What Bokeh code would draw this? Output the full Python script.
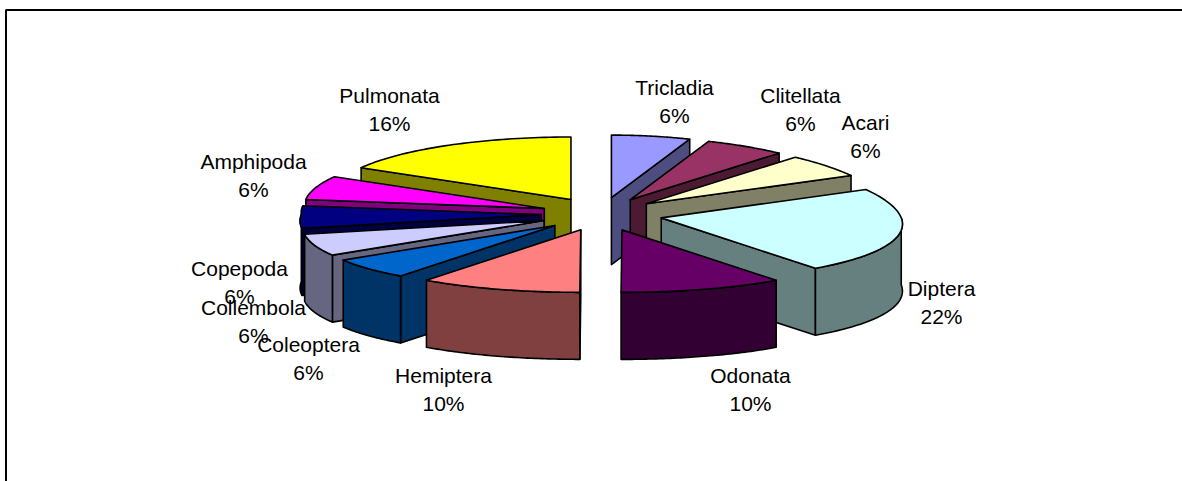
import math
from bokeh.plotting import figure
from bokeh.models import Range1d
from bokeh.core.properties import value
from bokeh.embed import file_html
from bokeh.resources import INLINE

# ---- data (slice sizes estimated; labels show them rounded) ----
categories = ["Tricladia", "Clitellata", "Acari", "Diptera", "Odonata", "Hemiptera",
              "Coleoptera", "Collembola", "Copepoda", "Amphipoda", "Pulmonata"]
percent = [5.8, 5.8, 5.9, 22.4, 10.1, 10.0, 5.6, 5.8, 5.8, 6.2, 16.49]
top_colors = ["#9999FF", "#993366", "#FFFFCC", "#CCFFFF", "#660066", "#FF8080",
              "#0066CC", "#CCCCFF", "#000080", "#FF00FF", "#FFFF00"]
side_colors = ["#4D4D80", "#4D1A33", "#808066", "#668080", "#330033", "#804040",
               "#003366", "#666680", "#000040", "#800080", "#808000"]

# ---- layout of the projected pie (pixels of the page) ----
W, H = 1182, 481
CX, CY = 601.0, 213.5        # pie centre
RA, RB = 240.0, 62.5         # ellipse radii
PERSP = 0.10                 # back narrower than front
PERSP_BACK_LEFT = -0.03      # the back-left quarter is drawn a little wider
EXPLODE_X, EXPLODE_Y = 0.25, 0.267   # slice pull-out, fraction of the radius
DEPTH = 67.0                 # extrusion
label_xy = [(674, 87), (800, 95), (865, 122), (941, 288), (750, 375), (443, 375),
            (308, 344), (253, 307), (239, 268), (253, 161), (389, 95)]
LINE_GAP = 28


def rim(theta):
    """Offset of a rim point at clockwise angle theta from 12 o'clock."""
    s, c = math.sin(theta), math.cos(theta)
    k = PERSP_BACK_LEFT if (s < 0 and c > 0) else PERSP
    return RA * s / (1 + k * c), -RB * c


p = figure(width=W, height=H, output_backend="svg", toolbar_location=None,
           x_range=Range1d(0, W), y_range=Range1d(H, 0), min_border=0,
           outline_line_color=None, margin=(0, 0, 0, 0))
p.axis.visible = False
p.grid.visible = False
p.background_fill_color = "white"
p.border_fill_color = "white"

# chart frame (its right and bottom sides lie outside the window)
p.line([5.5, 5.5, W + 5], [H + 5, 9.5, 9.5], line_color="#000000", line_width=2)

# slices
total = sum(percent)
slices = []
cum = 0
for name, v, tc, sc in zip(categories, percent, top_colors, side_colors):
    t0 = 2 * math.pi * cum / total
    t1 = 2 * math.pi * (cum + v) / total
    cum += v
    mid = (t0 + t1) / 2
    dx, dy = rim(mid)
    ax, ay = CX + EXPLODE_X * dx, CY + EXPLODE_Y * dy
    slices.append((ay, ax, t0, t1, tc, sc))


def poly(xs, ys, color):
    p.patch(xs, ys, fill_color=color, line_color="black", line_width=1.6, line_join="round")


def arc_points(ax, ay, t0, t1, n=48):
    pts = []
    for i in range(n + 1):
        t = t0 + (t1 - t0) * i / n
        ox, oy = rim(t)
        pts.append((ax + ox, ay + oy))
    return pts


for ay, ax, t0, t1, tc, sc in sorted(slices, key=lambda s: s[0]):
    # radial walls that face the viewer
    for t, visible in ((t0, math.sin(t0) < -1e-6), (t1, math.sin(t1) > 1e-6)):
        if visible:
            ox, oy = rim(t)
            poly([ax, ax + ox, ax + ox, ax], [ay, ay + oy, ay + oy + DEPTH, ay + DEPTH], sc)
    # outer wall: only the part of the rim on the near side
    lo, hi = max(t0, math.pi / 2), min(t1, 3 * math.pi / 2)
    if hi > lo:
        pts = arc_points(ax, ay, lo, hi)
        xs = [q[0] for q in pts] + [q[0] for q in reversed(pts)]
        ys = [q[1] for q in pts] + [q[1] + DEPTH for q in reversed(pts)]
        poly(xs, ys, sc)
    # top face
    pts = arc_points(ax, ay, t0, t1)
    poly([ax] + [q[0] for q in pts], [ay] + [q[1] for q in pts], tc)

# labels: name and rounded percentage on two centred lines
lx, ly, lt = [], [], []
for name, v, (x, y) in zip(categories, percent, label_xy):
    lx += [x, x]
    ly += [y, y + LINE_GAP]
    lt += [name, f"{round(v)}%"]
p.text(lx, ly, text=lt, text_font=value("Liberation Sans"), text_font_size="21px",
       text_color="#000000", text_align="center", text_baseline="middle")

open("out.html", "w").write(file_html(p, INLINE))
